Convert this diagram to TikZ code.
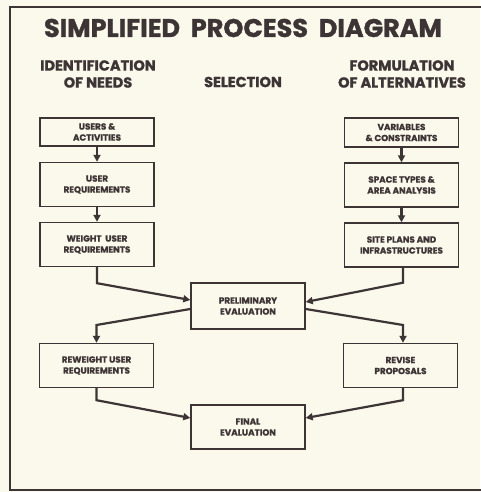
\documentclass[tikz,border=0pt]{standalone}
\usepackage{fontspec}
\setmainfont{Poppins}[BoldFeatures={FakeBold=1.2}]
\usetikzlibrary{arrows.meta}
\definecolor{ink}{HTML}{3D3535}
\definecolor{paper}{HTML}{FBF8EC}
\tikzset{
  stepbox/.style={draw=ink, line width=1.4pt, minimum width=114pt, minimum height=44pt,
    align=center, inner sep=2pt, text=ink, font=\fontsize{8.8}{11}\selectfont\bfseries},
  flow/.style={draw=ink, line width=2.2pt, -{Triangle[length=7pt,width=7pt]}},
  heading/.style={text=ink, align=center, font=\fontsize{14.5}{17}\selectfont\bfseries}
}
\begin{document}
\begin{tikzpicture}[x=1pt, y=-1pt]
			\fill[paper] (0,0) rectangle (480,492);
			\useasboundingbox (0,0) rectangle (480,492);
			% frame
			\draw[ink, line width=1.4pt] (482,7) -- (10,7) -- (10,490) -- (482,490);
			% titles
			\node[text=ink, font=\fontsize{25.5}{30}\selectfont\bfseries] (title) at (243,28) {SIMPLIFIED\ \ PROCESS\ \ DIAGRAM};
			\node[heading] (needs) at (98,74) {IDENTIFICATION\\OF NEEDS};
			\node[heading] (select) at (243,82) {SELECTION};
			\node[heading] (alts) at (402,74) {FORMULATION\\OF ALTERNATIVES};
			% left column
			\node[stepbox, minimum height=28pt] (users) at (97,132) {USERS \&\\ACTIVITIES};
			\node[stepbox] (ureq) at (97,184.5) {USER\\REQUIREMENTS};
			\node[stepbox] (wreq) at (97,244.5) {WEIGHT\ \ USER\\REQUIREMENTS};
			% right column
			\node[stepbox, minimum height=29pt] (vars) at (401.5,132.5) {VARIABLES\\\& CONSTRAINTS};
			\node[stepbox] (space) at (401.5,185) {SPACE TYPES \&\\AREA ANALYSIS};
			\node[stepbox] (site) at (401.5,245) {SITE PLANS AND\\INFRASTRUCTURES};
			% evaluation
			\node[stepbox, minimum height=46pt] (prelim) at (248,306) {PRELIMINARY\\EVALUATION};
			\node[stepbox] (rwreq) at (96.5,365.5) {REWEIGHT USER\\REQUIREMENTS};
			\node[stepbox] (revise) at (400.5,365.5) {REVISE\\PROPOSALS};
			\node[stepbox] (final) at (248,427) {FINAL\\EVALUATION};
			% arrows
			\draw[flow] (users) -- (ureq);
			\draw[flow] (ureq) -- (wreq);
			\draw[flow] (vars) -- (space);
			\draw[flow] (space) -- (site);
			\draw[flow] (wreq.south) -- ++(0,16) -- ([yshift=6pt]prelim.west);
			\draw[flow] ([xshift=1.5pt]site.south) -- ++(0,15) -- ([yshift=4pt]prelim.east);
			\draw[flow] ([yshift=-3pt]prelim.west) -- (rwreq.north |- 0,325) -- (rwreq.north);
			\draw[flow] ([yshift=-3pt]prelim.east) -- ([xshift=2.5pt]revise.north |- 0,325) -- ([xshift=2.5pt]revise.north);
			\draw[flow] (rwreq.south) -- ++(0,12) -- ([yshift=9pt]final.west);
			\draw[flow] ([xshift=2.5pt]revise.south) -- ++(0,12) -- ([yshift=9pt]final.east);
\end{tikzpicture}
\end{document}
